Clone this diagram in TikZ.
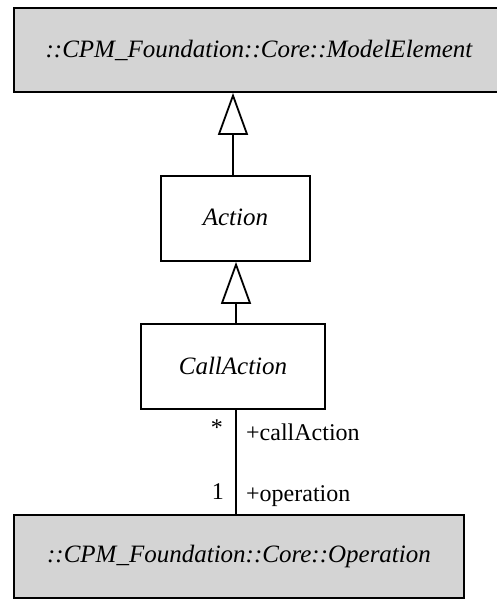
\documentclass[tikz,border=0pt]{standalone}
\usepackage{fontspec}
\setmainfont{Liberation Serif}
\usetikzlibrary{arrows.meta,calc}
\definecolor{boxgray}{RGB}{212,212,212}
\begin{document}
\begin{tikzpicture}[x=1pt,y=-1pt,
  cls/.style={draw=black,line width=1.8pt,rectangle,inner sep=0pt,font=\fontsize{25}{29}\selectfont\itshape},
  ext/.style={cls,fill=boxgray},
  inh/.style={line width=1.8pt,-{Triangle[open,length=42pt,width=30pt,fill=white,line width=1.8pt]}},
  assoc/.style={line width=1.8pt},
  lbl/.style={font=\fontsize{24}{28}\selectfont,inner sep=0pt}
]
\useasboundingbox (0,0) rectangle (497,599);
\clip (0,0) rectangle (497,599);
\node[ext,minimum width=490pt,minimum height=84pt] (top) at (259,50) {\raisebox{-5pt}{::CPM\_Foundation::Core::ModelElement}};
\node[cls,minimum width=149pt,minimum height=85pt] (action) at (235.5,218.5) {\raisebox{2pt}{Action}};
\node[cls,minimum width=184pt,minimum height=85pt] (call) at (233,366.5) {\raisebox{2pt}{CallAction}};
\node[ext,minimum width=450pt,minimum height=83pt] (op) at (239,556.5) {\raisebox{-1pt}{::CPM\_Foundation::Core::Operation}};
\coordinate (g1) at ($(action.north)+(-2.5,0)$);
\coordinate (g2) at ($(call.north)+(3,0)$);
\coordinate (a1) at ($(call.south)+(3,0)$);
\draw[inh] (g1) -- (g1 |- top.south);
\draw[inh] (g2) -- (g2 |- action.south);
\draw[assoc] (a1) -- (a1 |- op.north);
\node[lbl,anchor=east] (m1) at (223,428) {*};
\node[lbl,anchor=west] (r1) at (246,432) {+callAction};
\node[lbl,anchor=east] (m2) at (224,492) {1};
\node[lbl,anchor=west] (r2) at (246,496) {+operation};
\end{tikzpicture}
\end{document}
